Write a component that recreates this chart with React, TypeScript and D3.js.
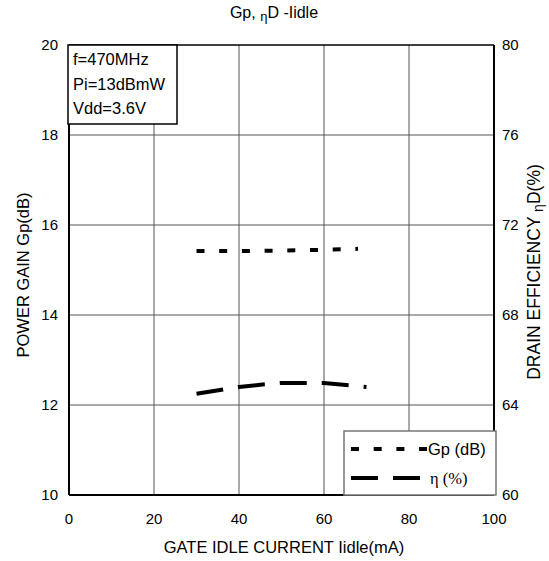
import * as d3 from 'd3';

const xTicks = [0, 20, 40, 60, 80, 100];
const gpTicks = [10, 12, 14, 16, 18, 20];
const effTicks = [60, 64, 68, 72, 76, 80];

const gpCurrent = [30, 40, 50, 60, 68];
const gpValues = [15.42, 15.42, 15.43, 15.45, 15.47];

const effCurrent = [30, 40, 45, 50, 60, 70];
const effValues = [64.5, 64.8, 64.9, 64.98, 64.98, 64.8];

const conditions = ['f=470MHz', 'Pi=13dBmW', 'Vdd=3.6V'];

const W = 549;
const H = 561;
const m = { left: 69, right: 494, top: 45, bottom: 495 };
const font = '"Liberation Sans", Arial, sans-serif';

const App = () => {
  const x = d3.scaleLinear().domain([0, 100]).range([m.left, m.right]);
  const yGp = d3.scaleLinear().domain([10, 20]).range([m.bottom, m.top]);
  const yEff = d3.scaleLinear().domain([60, 80]).range([m.bottom, m.top]);

  const gpLine = d3
    .line<number>()
    .x((d, i) => x(gpCurrent[i]))
    .y((d) => yGp(d));
  const effLine = d3
    .line<number>()
    .x((d, i) => x(effCurrent[i]))
    .y((d) => yEff(d));

  const midX = (m.left + m.right) / 2;
  const midY = (m.top + m.bottom) / 2;

  return (
    <svg
      width={W}
      height={H}
      style={{ position: 'absolute', left: 0, top: 0, background: '#fff' }}
      fontFamily={font}
    >
      <rect width={W} height={H} fill="#fff" />

      {/* title */}
      <text x={274} y={18} textAnchor="middle" fontSize={16}>
        Gp,{' '}
        <tspan fontSize={13} dy={3}>η</tspan>
        <tspan dy={-3}>D -Iidle</tspan>
      </text>

      {/* grid */}
      {xTicks.slice(1, -1).map((t) => (
        <line key={'gx' + t} x1={x(t)} x2={x(t)} y1={m.top} y2={m.bottom} stroke="#555" strokeWidth={1} />
      ))}
      {gpTicks.slice(1, -1).map((t) => (
        <line key={'gy' + t} x1={m.left} x2={m.right} y1={yGp(t)} y2={yGp(t)} stroke="#555" strokeWidth={1} />
      ))}

      {/* frame */}
      <line x1={m.left} x2={m.right} y1={m.top} y2={m.top} stroke="#000" strokeWidth={1.5} />
      <line x1={m.left} x2={m.left} y1={m.top} y2={m.bottom} stroke="#000" strokeWidth={2} />
      <line x1={m.right} x2={m.right} y1={m.top} y2={m.bottom} stroke="#000" strokeWidth={2} />
      <line x1={m.left} x2={m.right} y1={m.bottom} y2={m.bottom} stroke="#000" strokeWidth={2} />

      {/* tick labels */}
      {xTicks.map((t) => (
        <text key={'xl' + t} x={x(t)} y={524} textAnchor="middle" fontSize={15}>
          {t}
        </text>
      ))}
      {gpTicks.map((t) => (
        <text key={'yl' + t} x={58} y={yGp(t) + 5} textAnchor="end" fontSize={15}>
          {t}
        </text>
      ))}
      {effTicks.map((t) => (
        <text key={'el' + t} x={502} y={yEff(t) + 5} textAnchor="start" fontSize={15}>
          {t}
        </text>
      ))}

      {/* axis titles */}
      <text x={284} y={553} textAnchor="middle" fontSize={16.5}>
        GATE IDLE CURRENT Iidle(mA)
      </text>
      <text transform={`translate(29,${midY + 5}) rotate(-90)`} textAnchor="middle" fontSize={16.5}>
        POWER GAIN Gp(dB)
      </text>
      <text transform={`translate(540,${midY + 2}) rotate(-90)`} textAnchor="middle" fontSize={17.5}>
        DRAIN EFFICIENCY{' '}
        <tspan fontSize={14} dy={3}>η</tspan>
        <tspan dy={-3}>D(%)</tspan>
      </text>

      {/* series */}
      <path d={gpLine(gpValues) || ''} fill="none" stroke="#000" strokeWidth={4} strokeDasharray="8,14.7" />
      <path d={effLine(effValues) || ''} fill="none" stroke="#000" strokeWidth={4} strokeDasharray="27,15" />

      {/* conditions box */}
      <rect x={68} y={45} width={109} height={79} fill="#fff" stroke="#000" strokeWidth={1.5} />
      {conditions.map((c, i) => (
        <text key={c} x={73} y={65 + i * 24.5} fontSize={16.5}>
          {c}
        </text>
      ))}

      {/* legend */}
      <rect x={344} y={431} width={152} height={64} fill="#fff" stroke="#777" strokeWidth={1.5} />
      <line x1={351} x2={427} y1={449} y2={449} stroke="#000" strokeWidth={4} strokeDasharray="8,14.7" />
      <text x={428} y={455} fontSize={16.5}>
        Gp (dB)
      </text>
      <line x1={351} x2={421} y1={478} y2={478} stroke="#000" strokeWidth={4} strokeDasharray="27,15" />
      <text x={430} y={484} fontSize={16.5} fontFamily='"Liberation Serif", "Times New Roman", serif'>
        η (%)
      </text>
    </svg>
  );
};

export default App;
